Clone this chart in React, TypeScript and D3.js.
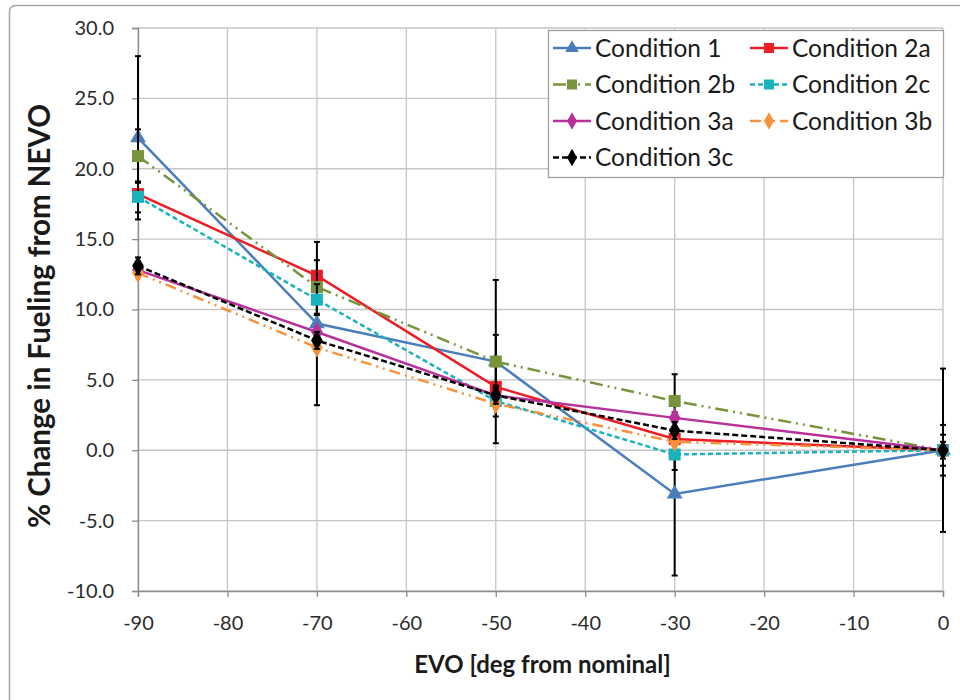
import React, { useEffect, useRef } from 'react';
import * as d3 from 'd3';

const xValues = [-90, -70, -50, -30, 0];
const xTicks = [-90, -80, -70, -60, -50, -40, -30, -20, -10, 0];
const yTicks = [-10, -5, 0, 5, 10, 15, 20, 25, 30];

const cond1 = [22.2, 9.0, 6.3, -3.1, 0];
const cond2a = [18.2, 12.4, 4.5, 0.8, 0];
const cond2b = [20.9, 11.6, 6.3, 3.5, 0];
const cond2c = [18.0, 10.7, 3.5, -0.3, 0];
const cond3a = [12.8, 8.4, 3.9, 2.3, 0];
const cond3b = [12.6, 7.3, 3.3, 0.6, 0];
const cond3c = [13.1, 7.8, 3.9, 1.4, 0];

// +/- error per point (only some series carry error bars)
const err1 = [5.8, 5.8, 5.8, 5.8, 5.8];
const err2b = [1.9, 1.9, 1.9, 1.9, 1.8];
const err2c = [1.1, 1.1, 1.1, 1.1, 1.1];
const err3c = [0.6, 0.6, 0.6, 0.6, 0.6];

type Series = {
  name: string;
  values: number[];
  err: number[] | null;
  color: string;
  dash: string | null;
  marker: 'triangle' | 'square' | 'diamond';
};

const series: Series[] = [
  { name: 'Condition 1', values: cond1, err: err1, color: '#4a7ebb', dash: null, marker: 'triangle' },
  { name: 'Condition 2a', values: cond2a, err: null, color: '#ee1c25', dash: null, marker: 'square' },
  { name: 'Condition 2b', values: cond2b, err: err2b, color: '#77933c', dash: '13,5,2,5,2,5', marker: 'square' },
  { name: 'Condition 2c', values: cond2c, err: err2c, color: '#1ab3bd', dash: '5,3', marker: 'square' },
  { name: 'Condition 3a', values: cond3a, err: null, color: '#b8309a', dash: null, marker: 'diamond' },
  { name: 'Condition 3b', values: cond3b, err: null, color: '#f7923c', dash: '11,5,2,5,2,5', marker: 'diamond' },
  { name: 'Condition 3c', values: cond3c, err: err3c, color: '#000000', dash: '6,3', marker: 'diamond' },
];

const width = 960;
const height = 700;
const margin = { top: 28, right: 17, bottom: 109, left: 138 };
const font = 'Lato, "Open Sans", sans-serif';

function markerPath(kind: string, size: number) {
  if (kind === 'triangle') return d3.symbol(d3.symbolTriangle, size * size * 0.55)();
  if (kind === 'square') return d3.symbol(d3.symbolSquare, size * size)();
  return d3.symbol(d3.symbolDiamond, size * size * 0.6)();
}

export default function App() {
  const svgRef = useRef<SVGSVGElement>(null);

  useEffect(() => {
    if (!svgRef.current) return;
    const svg = d3.select(svgRef.current);
    svg.selectAll('*').remove();

    const x = d3.scaleLinear().domain([-90, 0]).range([margin.left, width - margin.right]);
    const y = d3.scaleLinear().domain([-10, 30]).range([height - margin.bottom, margin.top]);

    // outer chart border
    svg.append('rect')
      .attr('x', 9.5).attr('y', 5.5)
      .attr('width', 1000).attr('height', 1000)
      .attr('rx', 6)
      .attr('fill', 'white')
      .attr('stroke', '#a6a6a6')
      .attr('stroke-width', 1.5);

    // grid
    svg.append('g').selectAll('line')
      .data(yTicks)
      .enter().append('line')
      .attr('x1', margin.left).attr('x2', width - margin.right)
      .attr('y1', d => y(d)).attr('y2', d => y(d))
      .attr('stroke', '#c6c6c6').attr('stroke-width', 1.3);
    svg.append('g').selectAll('line')
      .data(xTicks)
      .enter().append('line')
      .attr('x1', d => x(d)).attr('x2', d => x(d))
      .attr('y1', margin.top).attr('y2', height - margin.bottom)
      .attr('stroke', '#c6c6c6').attr('stroke-width', 1.3);

    // axes
    const yAxis = svg.append('g')
      .attr('transform', `translate(${margin.left}, 0)`)
      .call(d3.axisLeft(y).tickValues(yTicks).tickSize(6).tickPadding(18).tickFormat(d => (d as number).toFixed(1)));
    const xAxis = svg.append('g')
      .attr('transform', `translate(0, ${height - margin.bottom})`)
      .call(d3.axisBottom(x).tickValues(xTicks).tickSize(6).tickPadding(19).tickFormat(d => `${d}`));
    [yAxis, xAxis].forEach(ax => {
      ax.select('.domain').attr('stroke', '#8c8c8c').attr('stroke-width', 1.3);
      ax.selectAll('.tick line').attr('stroke', '#8c8c8c').attr('stroke-width', 1.3);
      ax.selectAll('.tick text')
        .attr('fill', '#2b2b2b')
        .style('font-family', font)
        .style('font-size', '20px');
    });

    // axis titles
    svg.append('text')
      .attr('x', (margin.left + width - margin.right) / 2 + 2)
      .attr('y', 673)
      .attr('text-anchor', 'middle')
      .style('font-family', font)
      .style('font-weight', 'bold')
      .style('font-size', '24px')
      .attr('fill', '#1a1a1a')
      .text('EVO [deg from nominal]');
    svg.append('text')
      .attr('transform', `translate(50, 316) rotate(-90)`)
      .attr('text-anchor', 'middle')
      .style('font-family', font)
      .style('font-weight', 'bold')
      .style('font-size', '29.5px')
      .attr('fill', '#1a1a1a')
      .text('% Change in Fueling from NEVO');

    const line = d3.line<number>()
      .x((_, i) => x(xValues[i]))
      .y(d => y(d));

    series.forEach(s => {
      const g = svg.append('g');
      g.append('path')
        .datum(s.values)
        .attr('d', line)
        .attr('fill', 'none')
        .attr('stroke', s.color)
        .attr('stroke-width', 2.5)
        .attr('stroke-dasharray', s.dash);

      if (s.err) {
        const err = s.err;
        const eb = g.append('g').selectAll('g')
          .data(s.values)
          .enter().append('g')
          .attr('stroke', '#000')
          .attr('stroke-width', 2);
        eb.append('line')
          .attr('x1', (_, i) => x(xValues[i])).attr('x2', (_, i) => x(xValues[i]))
          .attr('y1', (d, i) => y(d + err[i])).attr('y2', (d, i) => y(d - err[i]));
        eb.append('line')
          .attr('x1', (_, i) => x(xValues[i]) - 3).attr('x2', (_, i) => x(xValues[i]) + 3)
          .attr('y1', (d, i) => y(d + err[i])).attr('y2', (d, i) => y(d + err[i]));
        eb.append('line')
          .attr('x1', (_, i) => x(xValues[i]) - 3).attr('x2', (_, i) => x(xValues[i]) + 3)
          .attr('y1', (d, i) => y(d - err[i])).attr('y2', (d, i) => y(d - err[i]));
      }

      g.append('g').selectAll('path')
        .data(s.values)
        .enter().append('path')
        .attr('d', markerPath(s.marker, s.marker === 'square' ? 12 : 14))
        .attr('transform', (d, i) => `translate(${x(xValues[i])}, ${y(d)})`)
        .attr('fill', s.color);
    });

    // legend
    const lx = 548;
    const ly = 30;
    const legend = svg.append('g');
    legend.append('rect')
      .attr('x', lx + 0.5).attr('y', ly + 0.5)
      .attr('width', 395).attr('height', 147)
      .attr('fill', 'white')
      .attr('stroke', '#a0a0a0')
      .attr('stroke-width', 1.3);
    series.forEach((s, i) => {
      const col = i % 2;
      const row = Math.floor(i / 2);
      const ex = lx + 5 + col * 197;
      const ey = ly + 18 + row * 36.5;
      const item = legend.append('g').attr('transform', `translate(${ex}, ${ey})`);
      item.append('line')
        .attr('x1', 0).attr('x2', 38)
        .attr('y1', 0).attr('y2', 0)
        .attr('stroke', s.color)
        .attr('stroke-width', 2.5)
        .attr('stroke-dasharray', s.dash);
      item.append('path')
        .attr('d', markerPath(s.marker, s.marker === 'square' ? 10 : 12))
        .attr('transform', 'translate(19, 0)')
        .attr('fill', s.color);
      item.append('text')
        .attr('x', 42).attr('y', 0)
        .attr('dy', '0.35em')
        .style('font-family', font)
        .style('font-size', '24.5px')
        .attr('fill', '#1a1a1a')
        .text(s.name);
    });
  }, []);

  return (
    <div style={{ position: 'fixed', left: 0, top: 0, width, height, background: 'white' }}>
      <svg ref={svgRef} width={width} height={height} viewBox={`0 0 ${width} ${height}`} />
    </div>
  );
}
